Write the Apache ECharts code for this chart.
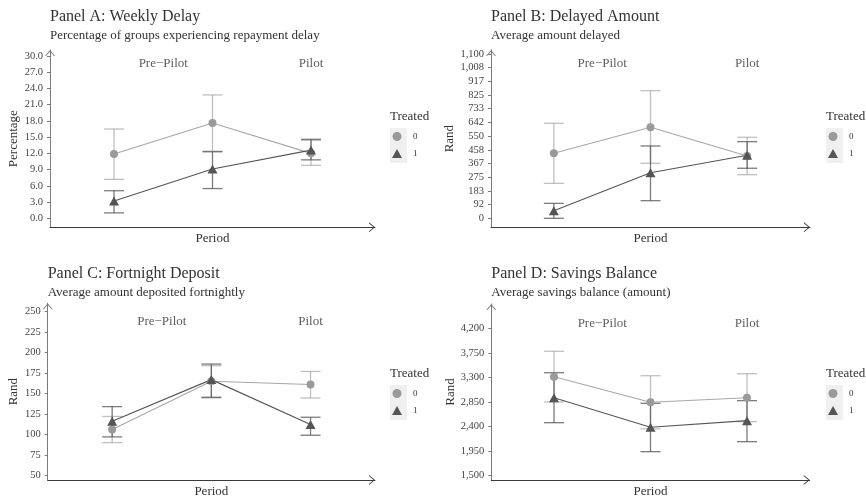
<!DOCTYPE html>
<html><head><meta charset="utf-8">
<script src="https://cdn.jsdelivr.net/npm/echarts@6/dist/echarts.min.js"></script>
<style>html,body{margin:0;padding:0;background:#fff}#c{width:866px;height:497px}</style>
</head><body><div id="c"></div>
<script>
// ---------- data ----------
const periods = [1, 2, 3];
const phaseLabels = ['Pre\u2212Pilot', 'Pilot'];
const phaseX = [1.5, 3];
const groupNames = ['0', '1'];

// Panel A: Weekly Delay (percentage)
const aMean0 = [11.9, 17.6, 12.0], aLo0 = [7.2, 12.4, 9.8], aHi0 = [16.5, 22.8, 14.4];
const aMean1 = [3.2, 9.1, 12.6],  aLo1 = [1.0, 5.5, 10.8],  aHi1 = [5.1, 12.3, 14.6];
const aTicks = [0, 3, 6, 9, 12, 15, 18, 21, 24, 27, 30];

// Panel B: Delayed Amount (Rand)
const bMean0 = [435, 609, 417], bLo0 = [234, 368, 292], bHi0 = [636, 854, 542];
const bMean1 = [51, 305, 422],  bLo1 = [0, 118, 335],   bHi1 = [100, 484, 513];
const bTicks = [0, 91.67, 183.33, 275, 366.67, 458.33, 550, 641.67, 733.33, 825, 916.67, 1008.33, 1100];

// Panel C: Fortnight Deposit (Rand)
const cMean0 = [106, 165, 161], cLo0 = [90, 146, 144.5], cHi0 = [122, 184, 177];
const cMean1 = [116, 167, 112], cLo1 = [97, 145, 99],    cHi1 = [134, 186, 121];
const cTicks = [50, 75, 100, 125, 150, 175, 200, 225, 250];

// Panel D: Savings Balance (Rand)
const dMean0 = [3316, 2844, 2929], dLo0 = [2850, 2355, 2487], dHi0 = [3784, 3334, 3371];
const dMean1 = [2929, 2384, 2506], dLo1 = [2469, 1935, 2119], dHi1 = [3389, 2826, 2875];
const dTicks = [1500, 1950, 2400, 2850, 3300, 3750, 4200];

// ---------- layout / style ----------
const FONT = 'Liberation Serif';
const C0 = '#9a9a9a', C1 = '#555555';
const EB0 = 'rgba(150,150,150,0.6)', EB1 = 'rgba(80,80,80,0.75)';
const chevron = 'path://M0,6 L5,0 L10,6 L8.9,6 L5,1.4 L1.1,6 Z';
const fmt1 = v => v.toFixed(1);
const fmtInt = v => Math.round(v).toLocaleString('en-US');

const panels = [
  {title: 'Panel A: Weekly Delay', sub: 'Percentage of groups experiencing repayment delay', yName: 'Percentage',
   grid: {left: 50, top: 50, width: 325, height: 177.3}, ymin: -1.66, ymax: 31.1, ticks: aTicks, fmt: fmt1,
   m0: aMean0, lo0: aLo0, hi0: aHi0, m1: aMean1, lo1: aLo1, hi1: aHi1, labelY: 28.65, nameGap: 30,
   lx: 390, ly: 117, titleTop: 9},
  {title: 'Panel B: Delayed Amount', sub: 'Average amount delayed', yName: 'Rand',
   grid: {left: 491, top: 50, width: 319, height: 177.3}, ymin: -60, ymax: 1126, ticks: bTicks, fmt: fmtInt,
   m0: bMean0, lo0: bLo0, hi0: bHi0, m1: bMean1, lo1: bLo1, hi1: bHi1, labelY: 1037, nameGap: 34,
   lx: 826, ly: 117, titleTop: 9},
  {title: 'Panel C: Fortnight Deposit', sub: 'Average amount deposited fortnightly', yName: 'Rand',
   grid: {left: 47.7, top: 303.3, width: 327.3, height: 176.7}, ymin: 44.3, ymax: 260.3, ticks: cTicks, fmt: fmtInt,
   m0: cMean0, lo0: cLo0, hi0: cHi0, m1: cMean1, lo1: cLo1, hi1: cHi1, labelY: 237.8, nameGap: 28,
   lx: 390, ly: 374, titleTop: 266},
  {title: 'Panel D: Savings Balance', sub: 'Average savings balance (amount)', yName: 'Rand',
   grid: {left: 491.3, top: 304, width: 318.4, height: 176}, ymin: 1413, ymax: 4655, ticks: dTicks, fmt: fmtInt,
   m0: dMean0, lo0: dLo0, hi0: dHi0, m1: dMean1, lo1: dLo1, hi1: dHi1, labelY: 4286, nameGap: 34,
   lx: 826, ly: 374, titleTop: 266}
];

function errRender(color) {
  return function (params, api) {
    const x = api.value(0);
    const pLo = api.coord([x, api.value(1)]);
    const pHi = api.coord([x, api.value(2)]);
    const w = 10;
    const st = {stroke: color, lineWidth: 1.3};
    return {type: 'group', children: [
      {type: 'line', shape: {x1: pLo[0], y1: pLo[1], x2: pHi[0], y2: pHi[1]}, style: st},
      {type: 'line', shape: {x1: pLo[0] - w, y1: pLo[1], x2: pLo[0] + w, y2: pLo[1]}, style: st},
      {type: 'line', shape: {x1: pHi[0] - w, y1: pHi[1], x2: pHi[0] + w, y2: pHi[1]}, style: st}
    ]};
  };
}

const option = {
  backgroundColor: '#fff',
  animation: false,
  textStyle: {fontFamily: FONT},
  title: [], grid: [], xAxis: [], yAxis: [], series: [], legend: [], graphic: []
};

panels.forEach((p, i) => {
  option.title.push({
    text: p.title, subtext: p.sub, left: p.grid.left, top: p.titleTop, padding: 0, itemGap: 4,
    textStyle: {fontFamily: FONT, fontSize: 16, fontWeight: 'normal', color: '#333'},
    subtextStyle: {fontFamily: FONT, fontSize: 13, color: '#333'}
  });
  option.grid.push(Object.assign({containLabel: false, outerBoundsMode: 'none'}, p.grid));
  option.xAxis.push({
    gridIndex: i, type: 'value', min: 0.35, max: 3.65,
    name: 'Period', nameLocation: 'middle', nameGap: 5,
    nameTextStyle: {fontFamily: FONT, fontSize: 13, color: '#333', verticalAlign: 'top'},
    axisLine: {show: true, onZero: false, symbol: ['none', chevron], symbolSize: [10, 6], symbolOffset: [0, -3],
      lineStyle: {color: '#3a3a3a', width: 1}},
    axisTick: {show: false}, axisLabel: {show: false}, splitLine: {show: false}
  });
  option.yAxis.push({
    gridIndex: i, type: 'value', min: p.ymin, max: p.ymax,
    name: p.yName, nameLocation: 'middle', nameRotate: 90, nameGap: p.nameGap,
    nameTextStyle: {fontFamily: FONT, fontSize: 13, color: '#333'},
    axisLine: {show: true, onZero: false, symbol: ['none', chevron], symbolSize: [10, 6], symbolOffset: [0, -3],
      lineStyle: {color: '#7a7a7a', width: 1}},
    axisTick: {show: true, length: 3, customValues: p.ticks, lineStyle: {color: '#7a7a7a'}},
    axisLabel: {show: true, customValues: p.ticks, formatter: p.fmt, margin: 7,
      fontFamily: FONT, fontSize: 10.5, color: '#444'},
    splitLine: {show: false}
  });
  const mk = arr => periods.map((x, k) => [x, arr[k]]);
  option.series.push({
    type: 'custom', name: '0 ci', xAxisIndex: i, yAxisIndex: i, z: 2,
    renderItem: errRender(EB0), encode: {x: 0, y: [1, 2]},
    data: periods.map((x, k) => [x, p.lo0[k], p.hi0[k]])
  });
  option.series.push({
    type: 'custom', name: '1 ci', xAxisIndex: i, yAxisIndex: i, z: 2,
    renderItem: errRender(EB1), encode: {x: 0, y: [1, 2]},
    data: periods.map((x, k) => [x, p.lo1[k], p.hi1[k]])
  });
  option.series.push({
    type: 'line', name: groupNames[0], xAxisIndex: i, yAxisIndex: i, z: 3,
    data: mk(p.m0), symbol: 'circle', symbolSize: 8, color: C0,
    lineStyle: {color: '#a8a8a8', width: 1.1}, itemStyle: {color: C0}
  });
  option.series.push({
    type: 'line', name: groupNames[1], xAxisIndex: i, yAxisIndex: i, z: 3,
    data: mk(p.m1), symbol: 'triangle', symbolSize: [10, 9], color: C1,
    lineStyle: {color: '#555', width: 1.1}, itemStyle: {color: C1}
  });
  option.series.push({
    type: 'scatter', name: 'phase', xAxisIndex: i, yAxisIndex: i, silent: true, symbolSize: 0,
    data: phaseX.map((x, k) => ({value: [x, p.labelY], name: phaseLabels[k]})),
    label: {show: true, position: 'inside', formatter: '{b}', fontFamily: FONT, fontSize: 13, color: '#333'}
  });
  option.legend.push({
    data: [{name: '0', icon: 'circle'}, {name: '1', icon: 'triangle'}],
    orient: 'vertical', left: p.lx + 2, top: p.ly + 15, itemWidth: 10, itemHeight: 9, itemGap: 8,
    padding: 0, selectedMode: false,
    textStyle: {fontFamily: FONT, fontSize: 9, color: '#333', padding: [0, 0, 0, 6]}
  });
  option.graphic.push({
    type: 'rect', shape: {x: p.lx, y: p.ly + 11, width: 17, height: 35}, style: {fill: '#f0f0f0'}, z: 0, silent: true
  });
  option.graphic.push({
    type: 'text', x: p.lx, y: p.ly, style: {text: 'Treated', font: '13px "Liberation Serif"', fill: '#333', verticalAlign: 'middle'}, z: 1
  });
});

const chart = echarts.init(document.getElementById('c'), null, {renderer: 'canvas'});
chart.setOption(option);
</script></body></html>
